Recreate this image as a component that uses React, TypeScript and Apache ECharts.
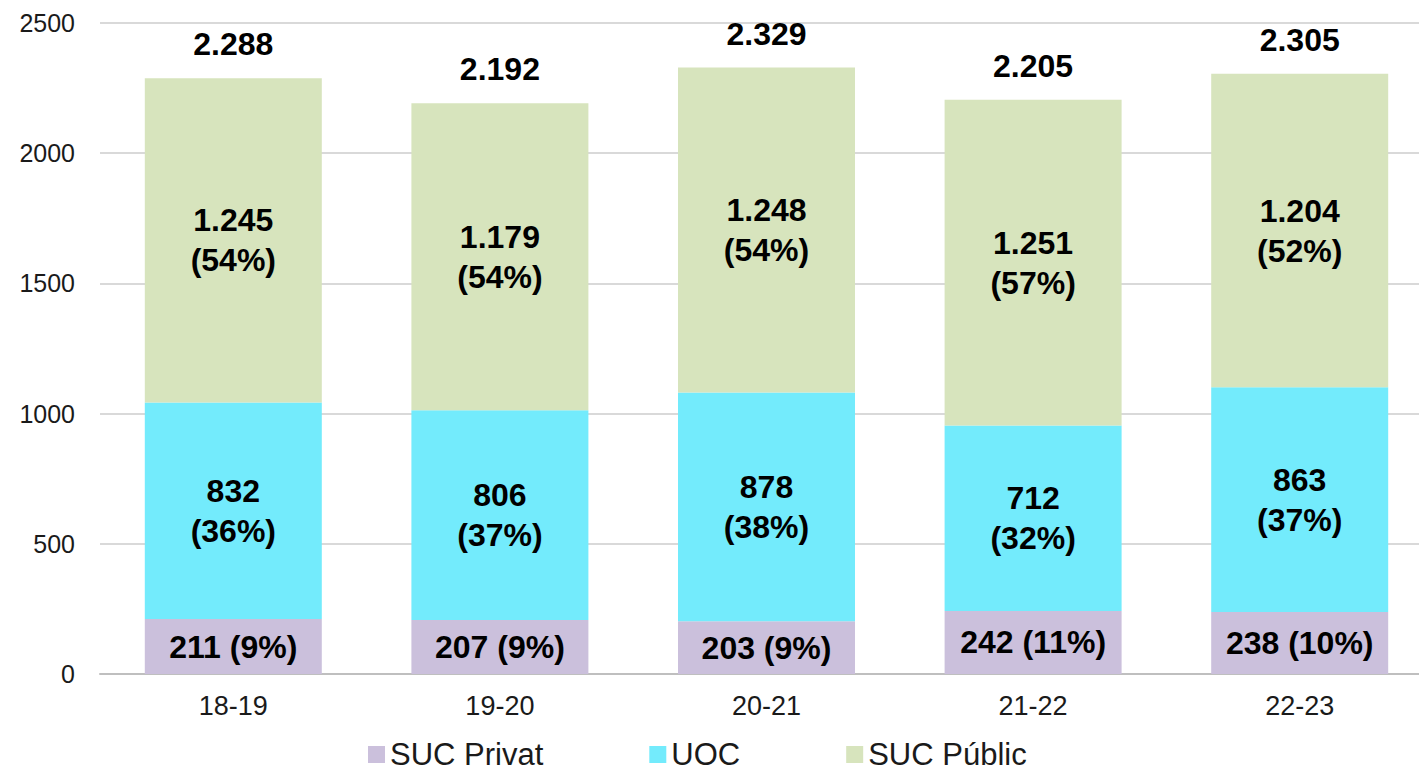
import React, { useEffect, useRef } from "react";
import * as echarts from "echarts";

const categories = ["18-19", "19-20", "20-21", "21-22", "22-23"];
const sucPrivat = [211, 207, 203, 242, 238];
const uoc = [832, 806, 878, 712, 863];
const sucPublic = [1245, 1179, 1248, 1251, 1204];
const yTicks = { min: 0, max: 2500, interval: 500 };

const colors = { privat: "#cbc0dc", uoc: "#73ebfc", public: "#d7e4bd" };
const FONT = "'Liberation Sans', Arial, sans-serif";

const totals = categories.map((_, i) => sucPrivat[i] + uoc[i] + sucPublic[i]);
const fmt = (v: number) => String(v).replace(/\B(?=(\d{3})+(?!\d))/g, ".");
const pct = (v: number, i: number) => Math.round((v / totals[i]) * 100);

export default function App() {
  const ref = useRef<HTMLDivElement>(null);
  useEffect(() => {
    if (!ref.current) return;
    const chart = echarts.init(ref.current, null, { renderer: "svg" });
    const innerLabel = (twoLines: boolean) => ({
      show: true,
      position: "inside" as const,
      fontFamily: FONT,
      fontSize: 32,
      fontWeight: "bold" as const,
      color: "#000",
      lineHeight: 40,
      formatter: (p: any) =>
        twoLines
          ? `${fmt(p.value)}\n(${pct(p.value, p.dataIndex)}%)`
          : `${fmt(p.value)} (${pct(p.value, p.dataIndex)}%)`,
    });
    chart.setOption({
      animation: false,
      grid: { left: 100, right: 0, top: 23, bottom: 100 },
      legend: {
        data: ["SUC Privat", "UOC", "SUC Públic"],
        left: 363,
        top: 734,
        icon: "rect",
        itemWidth: 17,
        itemHeight: 17,
        itemGap: 106,
        textStyle: { fontFamily: FONT, fontSize: 31, color: "#1a1a1a", lineHeight: 31 },
      },
      xAxis: {
        type: "category",
        data: categories,
        axisLine: { lineStyle: { color: "#bfbfbf", width: 2 } },
        axisTick: { show: false },
        axisLabel: { fontFamily: FONT, fontSize: 27, color: "#1a1a1a", margin: 18 },
      },
      yAxis: {
        type: "value",
        min: yTicks.min,
        max: yTicks.max,
        interval: yTicks.interval,
        axisLine: { show: false },
        axisTick: { show: false },
        axisLabel: {
          fontFamily: FONT,
          fontSize: 25,
          color: "#1a1a1a",
          margin: 25,
          formatter: (v: number) => String(v),
        },
        splitLine: { lineStyle: { color: "#d9d9d9", width: 2 } },
      },
      series: [
        {
          name: "SUC Privat",
          type: "bar",
          stack: "t",
          barWidth: 177,
          data: sucPrivat,
          itemStyle: { color: colors.privat },
          label: innerLabel(false),
        },
        {
          name: "UOC",
          type: "bar",
          stack: "t",
          barWidth: 177,
          data: uoc,
          itemStyle: { color: colors.uoc },
          label: innerLabel(true),
        },
        {
          name: "SUC Públic",
          type: "bar",
          stack: "t",
          barWidth: 177,
          data: sucPublic,
          itemStyle: { color: colors.public },
          label: innerLabel(true),
        },
        {
          name: "Total",
          type: "bar",
          stack: "t",
          barWidth: 177,
          data: totals.map(() => 0),
          itemStyle: { color: "rgba(0,0,0,0)" },
          label: {
            show: true,
            position: "top",
            distance: 18,
            fontFamily: FONT,
            fontSize: 32,
            fontWeight: "bold",
            color: "#000",
            formatter: (p: any) => fmt(totals[p.dataIndex]),
          },
          silent: true,
        },
      ],
    });
    return () => chart.dispose();
  }, []);
  return (
    <div
      style={{
        position: "absolute",
        left: 0,
        top: 0,
        width: 1419,
        height: 774,
        overflow: "hidden",
      }}
    >
      <div ref={ref} style={{ width: 1433, height: 774 }} />
    </div>
  );
}
